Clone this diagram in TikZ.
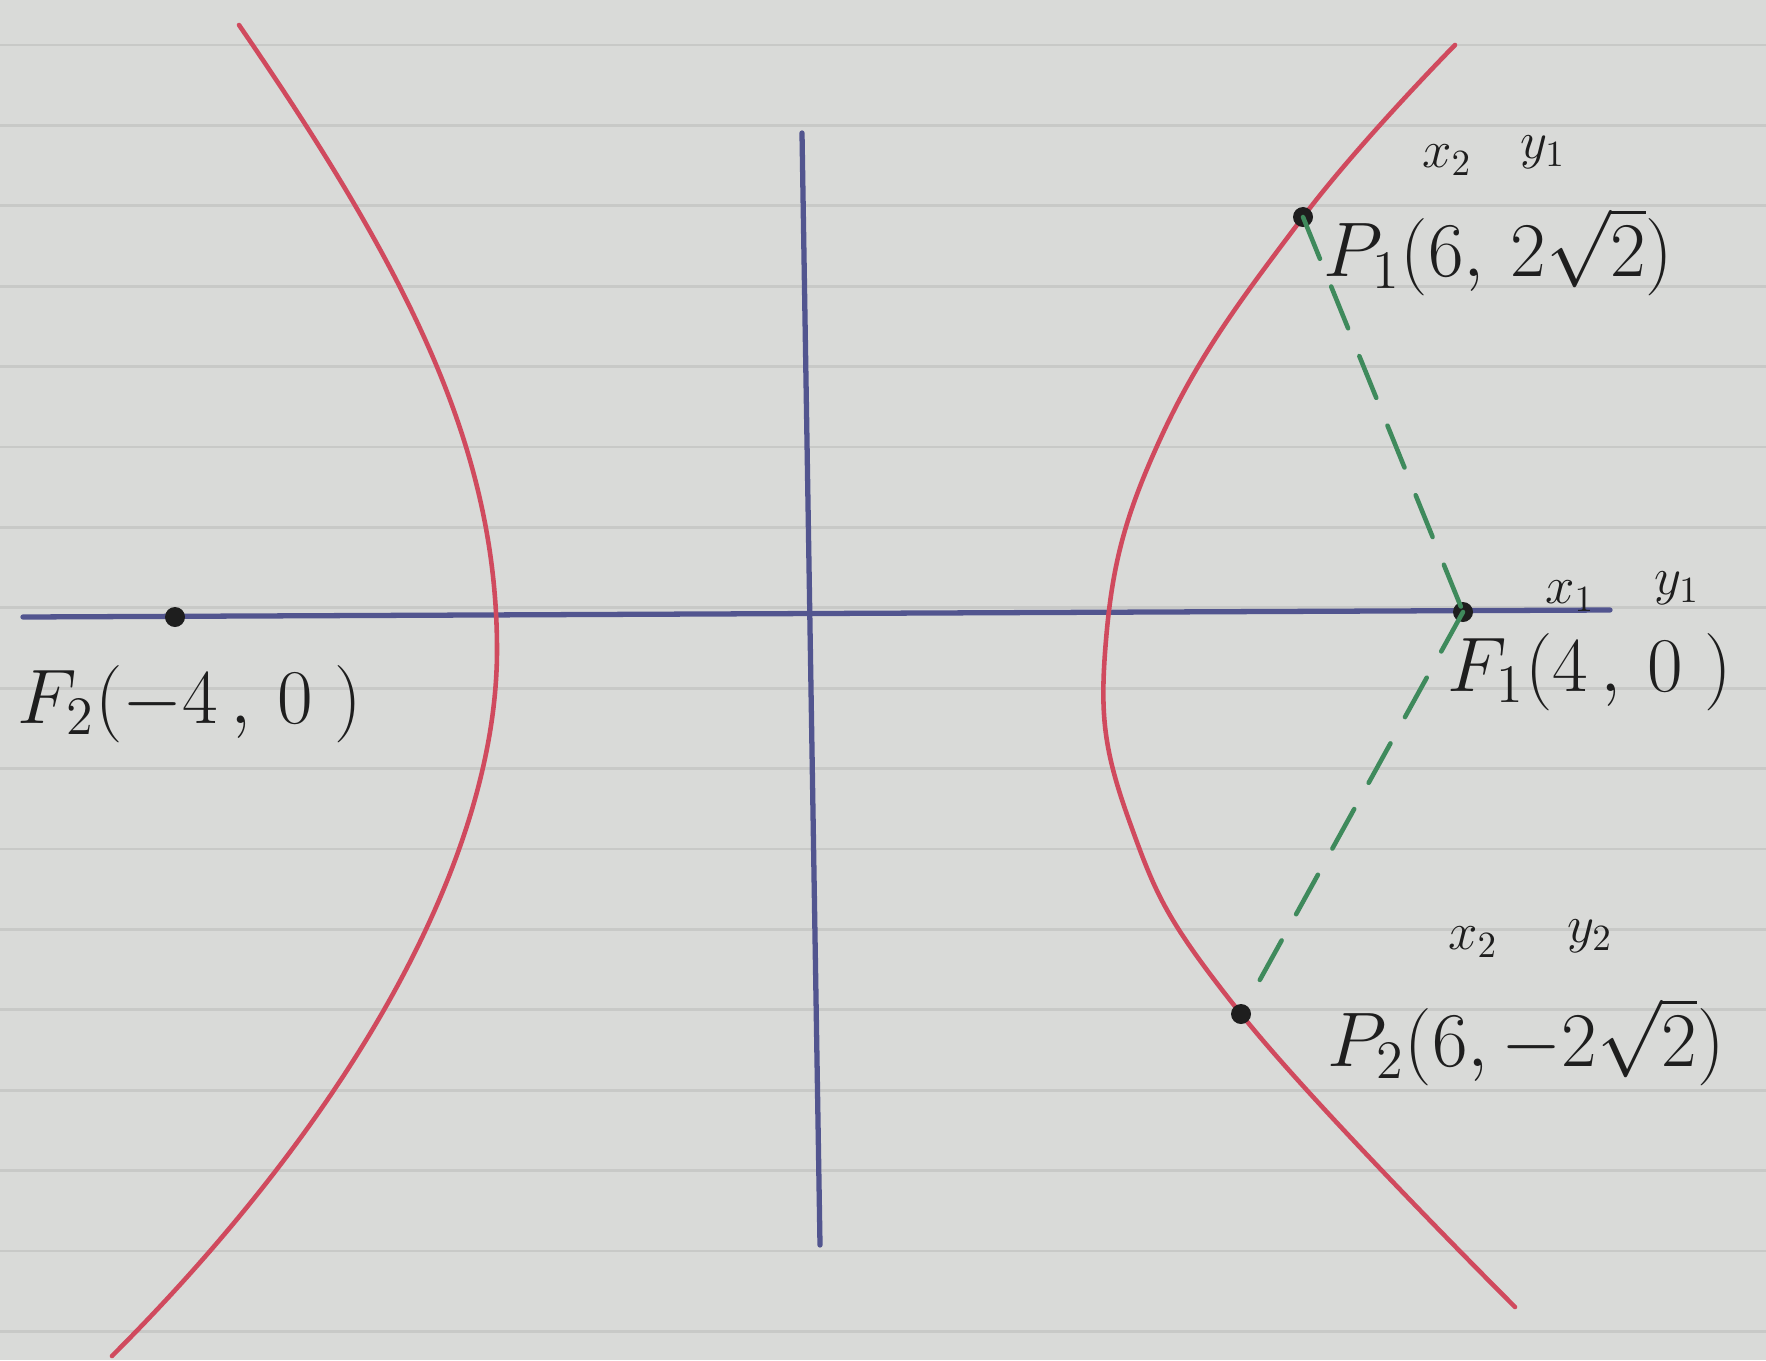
\documentclass[tikz,border=0pt]{standalone}
\usepackage{fix-cm}
\usetikzlibrary{positioning}
\definecolor{paperfill}{HTML}{D9DAD8}
\definecolor{ruleline}{HTML}{C8C9C7}
\definecolor{axiscolor}{HTML}{52558F}
\definecolor{curvecolor}{HTML}{D04A5E}
\definecolor{chordcolor}{HTML}{3F8A5C}
\definecolor{inkcolor}{HTML}{1E1E1E}

\begin{document}
\begin{tikzpicture}[x=0.01cm, y=-0.01cm, line cap=round]

\tikzset{
  axisline/.style={axiscolor, line width=1.5pt},
  branch/.style={curvecolor, line width=1.3pt},
  chord/.style={chordcolor, line width=1.3pt, dash pattern=on 0.45cm off 0.3cm},
  dotmark/.style={circle, fill=inkcolor, inner sep=0pt, minimum size=2mm},
  bigtag/.style={inkcolor, font=\fontsize{22}{26}\selectfont, inner sep=0pt, anchor=west},
  smalltag/.style={inkcolor, font=\fontsize{15}{18}\selectfont, inner sep=0pt},
}

% ---- lined paper ----
\fill[paperfill] (0,0) rectangle (1766,1360);
\useasboundingbox (0,0) rectangle (1766,1360);
\foreach \k in {0,...,16}
  \draw[ruleline, line width=0.8pt] (0,45+80.4*\k) -- (1766,45+80.4*\k);

% ---- axes ----
\draw[axisline] (23,617) -- (1610,610);
\draw[axisline] (802,133) -- (820,1245);

% ---- the two branches ----
\draw[branch] (239,25) .. controls (411,275) and (497,450) .. (497,650)
  .. controls (497,850) and (362,1106) .. (112,1356);
\draw[branch] plot[smooth, tension=0.7] coordinates {(1455,45) (1303,217) (1163,433)
  (1106,640) (1130,823) (1241,1014) (1515,1307)};

% ---- foci and points ----
\node[dotmark] (F1) at (1463,612) {};
\node[dotmark] (F2) at (175,617) {};
\node[dotmark] (P1) at (1303,217) {};
\node[dotmark] (P2) at (1241,1014) {};

\draw[chord] (P1.center) -- (F1.center);
\draw[chord, shorten >=3mm] (F1.center) -- (P2.center);

% ---- labels ----
\node[bigtag] (P1tag) at (1323,252) {$P_1(6,\,2\sqrt{2})$};
\node[smalltag] (P1x) at (1447,160) {$x_2$};
\node[smalltag] (P1y) at (1543,152) {$y_1$};

\node[bigtag] (F1tag) at (1447,672) {$F_1(4\,,\,0\;)$};
\node[smalltag] (F1x) at (1570,596) {$x_1$};
\node[smalltag] (F1y) at (1677,588) {$y_1$};

\node[bigtag] (P2tag) at (1327,1042) {$P_2(6,-2\sqrt{2})$};
\node[smalltag] (P2x) at (1473,942) {$x_2$};
\node[smalltag] (P2y) at (1590,936) {$y_2$};

\node[bigtag] (F2tag) at (17,704) {$F_2(-4\,,\,0\;)$};

\end{tikzpicture}
\end{document}
